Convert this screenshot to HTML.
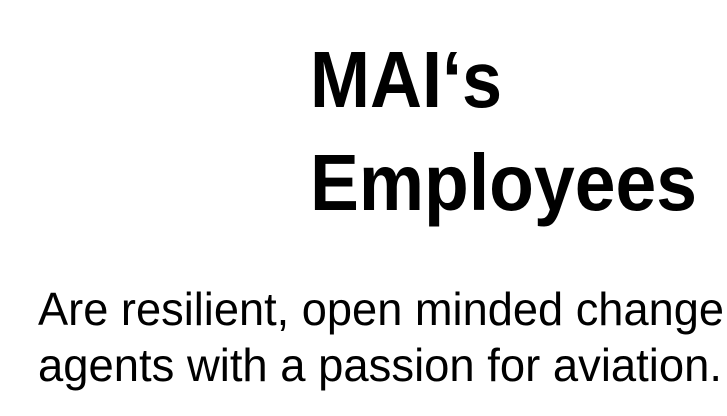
<!DOCTYPE html>
<html><head><meta charset="utf-8"><style>
html,body{margin:0;padding:0;background:#fff;width:727px;height:416px;overflow:hidden}
svg{display:block}
text{font-family:"Liberation Sans",sans-serif;fill:#000}
</style></head><body>
<svg width="727" height="416" viewBox="0 0 727 416" xmlns="http://www.w3.org/2000/svg">
<text x="310" y="107" font-size="80" font-weight="bold" textLength="192" lengthAdjust="spacingAndGlyphs">MAI‘s</text>
<text x="310" y="210" font-size="80" font-weight="bold" textLength="387" lengthAdjust="spacingAndGlyphs">Employees</text>
<text x="38" y="325" font-size="46" textLength="686" lengthAdjust="spacingAndGlyphs">Are resilient, open minded change</text>
<text x="38" y="381" font-size="46" textLength="684" lengthAdjust="spacingAndGlyphs">agents with a passion for aviation.</text>
</svg>
</body></html>
